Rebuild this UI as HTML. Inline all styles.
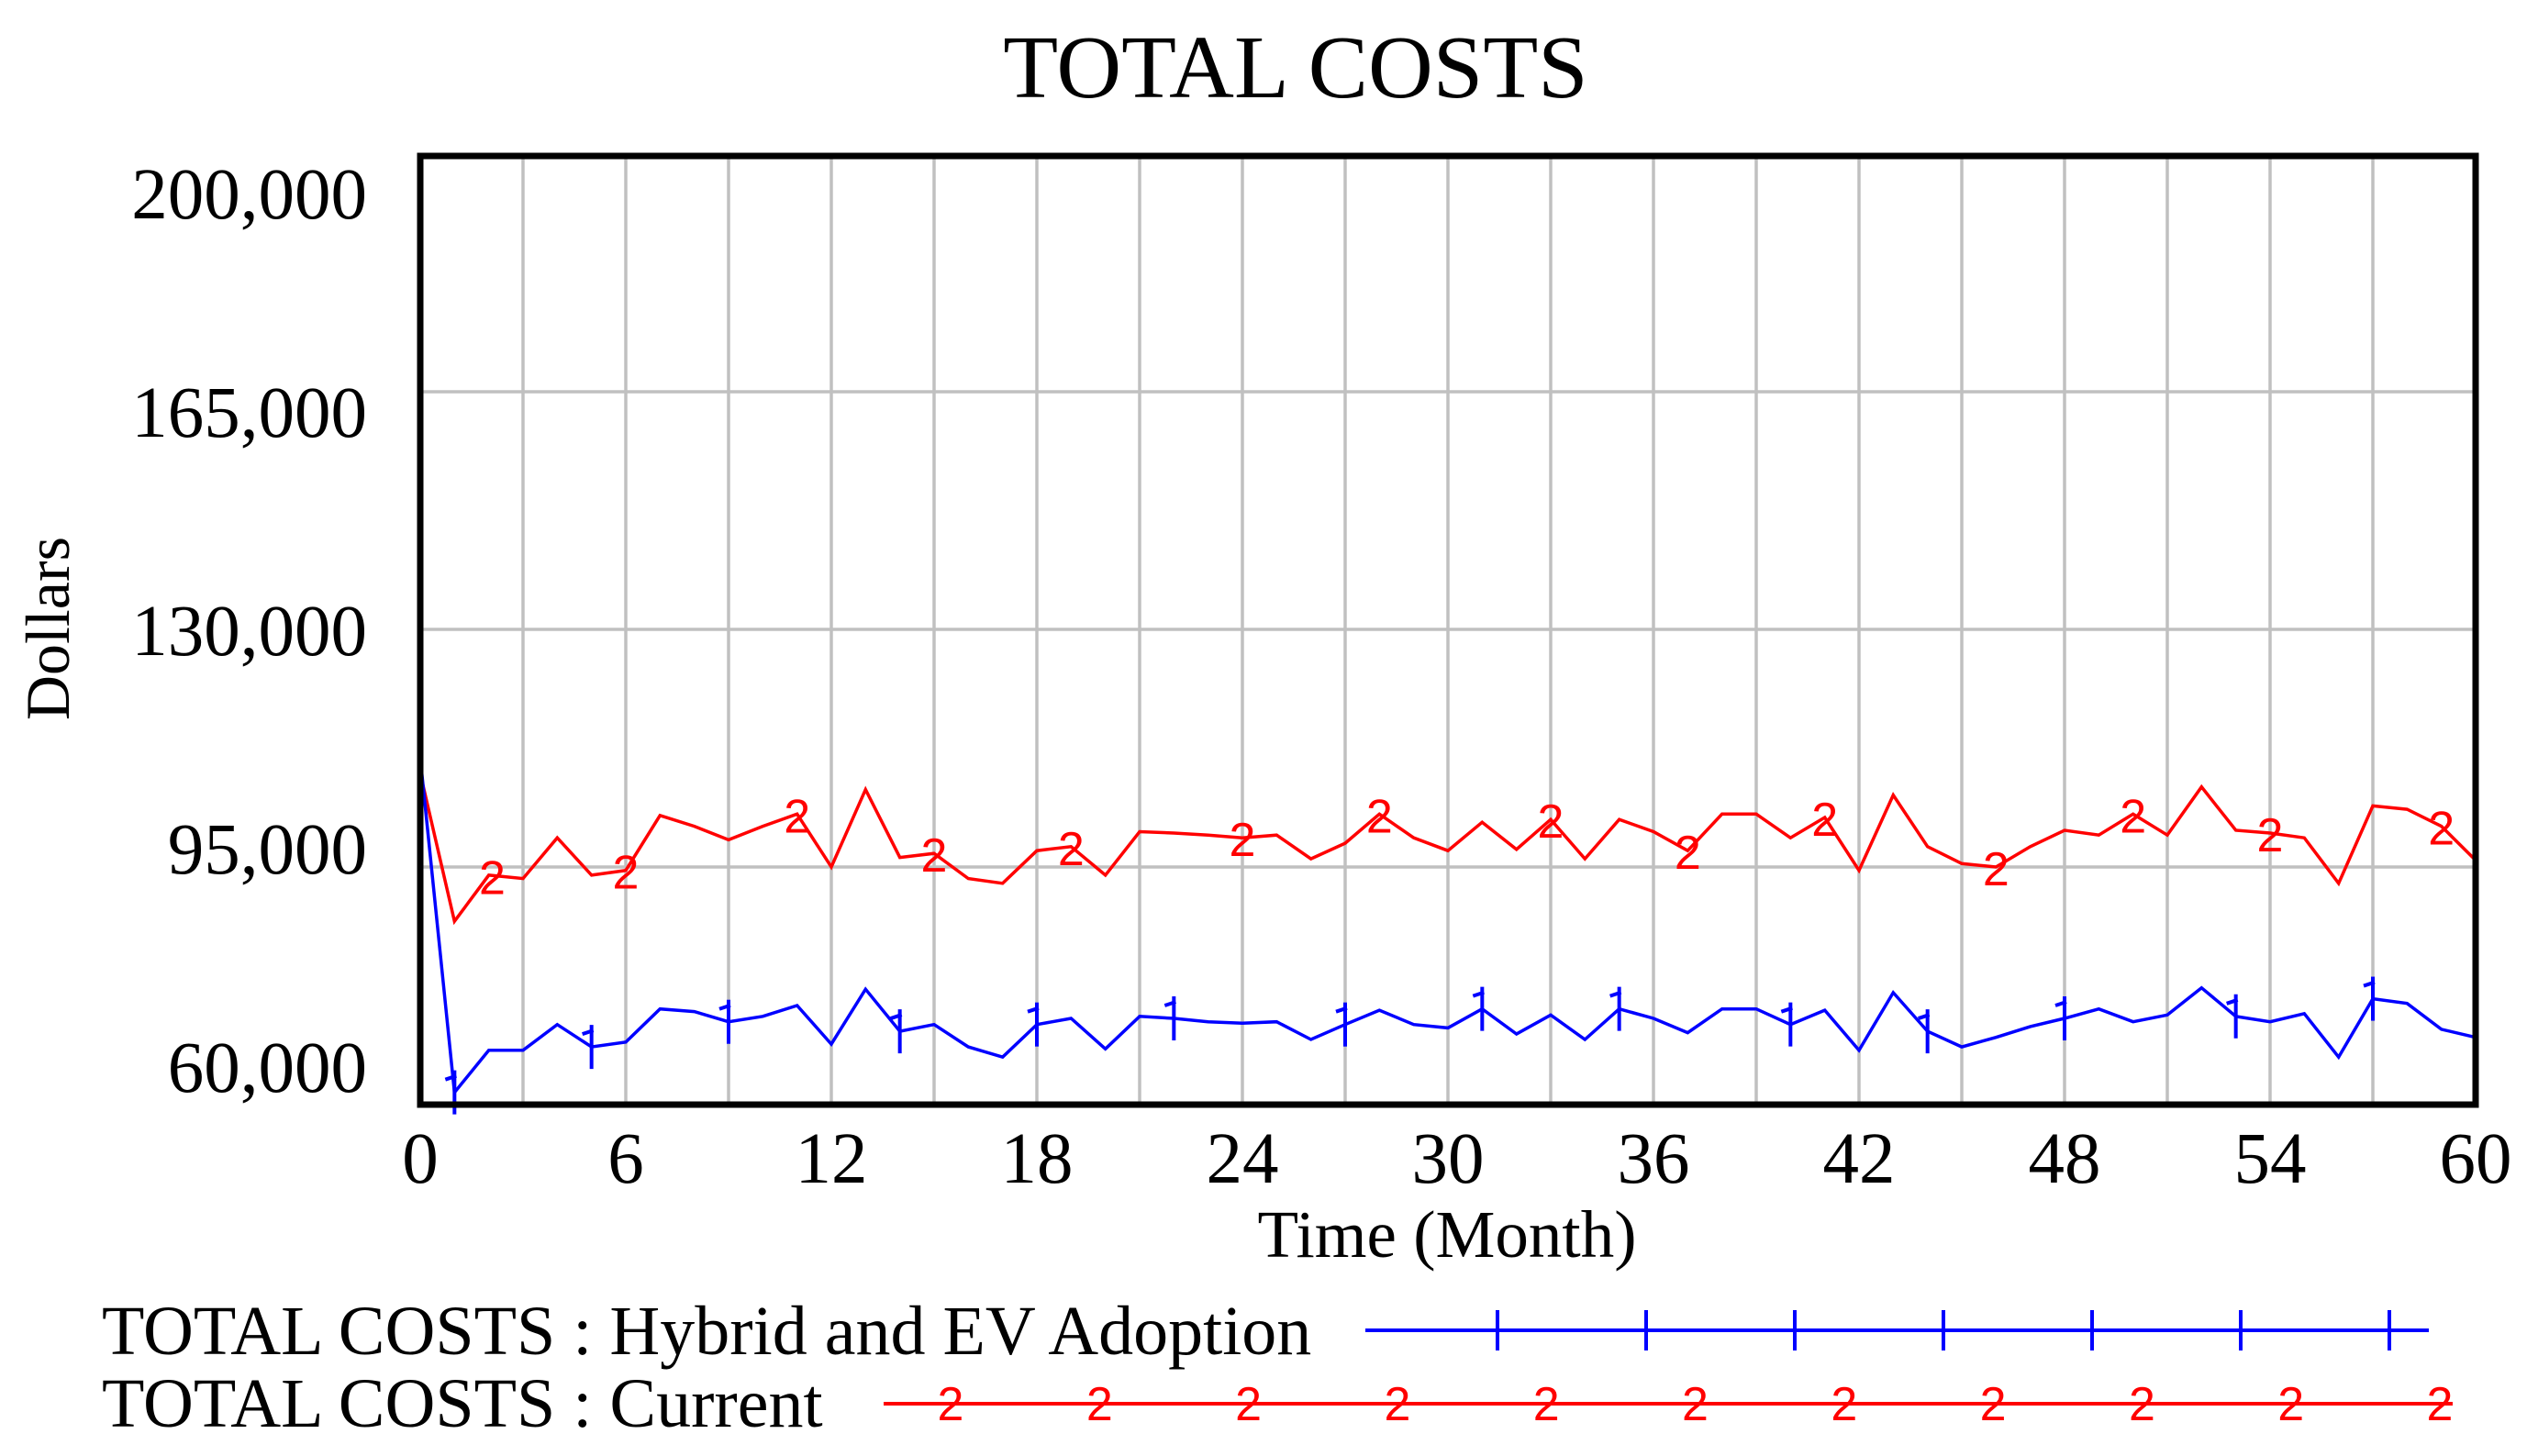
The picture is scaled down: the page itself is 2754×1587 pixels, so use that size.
<!DOCTYPE html>
<html><head><meta charset="utf-8"><style>
html,body{margin:0;padding:0;background:#fff;}
svg{display:block;font-family:"Liberation Serif",serif;}
</style></head><body>
<svg id="chart" width="2754" height="1587" viewBox="0 0 2754 1587" xmlns="http://www.w3.org/2000/svg">
<text x="1412" y="106" font-size="98" text-anchor="middle">TOTAL COSTS</text>
<g id="grid"></g>
<g id="yticks"></g>
<g id="xticks"></g>
<g id="series"></g>
<rect x="458" y="170" width="2240" height="1034" fill="none" stroke="#000" stroke-width="7"/>
<text transform="translate(75,685) rotate(-90)" font-size="68" text-anchor="middle">Dollars</text>
<text x="1577" y="1370" font-size="73" text-anchor="middle">Time (Month)</text>
<g id="legend">
<text x="111" y="1476" font-size="76">TOTAL COSTS : Hybrid and EV Adoption</text>
<text x="111" y="1555" font-size="76">TOTAL COSTS : Current</text>
</g>
</svg>
<script>
const months = [];
for (let i = 0; i <= 60; i++) months.push(i);
const hybridValues = [111100,61800,68000,68000,71800,68500,69200,74100,73700,72200,73000,74600,68900,77000,70800,71800,68500,67000,71800,72700,68200,73000,72700,72200,72000,72200,69600,71800,73900,71800,71300,74100,70400,73200,69600,74100,72700,70600,74100,74100,71800,73900,68000,76500,70800,68500,69900,71500,72700,74100,72200,73200,77200,73000,72200,73400,67000,75600,74900,71100,69900];
const currentValues = [108800,87000,93800,93300,99300,93800,94500,102600,101000,99000,101000,102800,95000,106400,96400,97000,93300,92600,97400,98000,93800,100200,100000,99700,99300,99700,96200,98500,102800,99300,97400,101600,97600,102000,96200,102000,100200,97400,102800,102800,99300,102300,94500,105600,98000,95500,95000,98000,100400,99700,102800,99700,106800,100400,100000,99300,92600,104000,103500,101000,96000];
const hybridMarkerTimes = [1,5,9,14,18,22,27,31,35,40,44,48,53,57];
const currentMarkerTimes = [2.1,6,11,15,19,24,28,33,37,41,46,50,54,59];
const yTickValues = [60000,95000,130000,165000,200000];
const yTickLabels = ["60,000","95,000","130,000","165,000","200,000"];
const xTickValues = [0,6,12,18,24,30,36,42,48,54,60];

const NS = "http://www.w3.org/2000/svg";
const X0 = 458, X1 = 2698, Y0 = 1204, Y1 = 168;
function xScale(t){ return X0 + (t/60)*(X1-X0); }
function yScale(v){ return Y0 - (v-60000)/(200000-60000)*(Y0-Y1); }
function mk(tag, attrs, parent){ const e=document.createElementNS(NS,tag); for(const k in attrs) e.setAttribute(k,attrs[k]); parent.appendChild(e); return e; }
function interp(arr,t){ const i=Math.floor(t), f=t-i; if(i>=60) return arr[60]; return arr[i]+(arr[i+1]-arr[i])*f; }

const grid = document.getElementById('grid');
for (let t = 3; t < 60; t += 3) {
  const l = mk('line',{x1:xScale(t),x2:xScale(t),y1:Y1,y2:Y0,stroke:'#c0c0c0','stroke-width':3.5},grid);
  
  
}
for (let i = 1; i < yTickValues.length-1; i++) {
  const l = mk('line',{x1:X0,x2:X1,y1:yScale(yTickValues[i]),y2:yScale(yTickValues[i]),stroke:'#c0c0c0','stroke-width':3.5},grid);
  
  
}
const yt = document.getElementById('yticks');
// labels are spread evenly from near the top to near the bottom of the frame
yTickValues.forEach((v,i)=>{
  const frac = i/(yTickValues.length-1);
  const cy = 1163 - frac*(1163-211);
  const tx = mk('text',{x:400,y:cy+27,'font-size':79,'text-anchor':'end'},yt);
  tx.textContent = yTickLabels[i];
  
  
});
const xt = document.getElementById('xticks');
xTickValues.forEach(v=>{
  const tx = mk('text',{x:xScale(v),y:1289,'font-size':79,'text-anchor':'middle'},xt);
  tx.textContent = String(v);
  
  
});
const sg = document.getElementById('series');
function drawSeries(vals,color,name){
  const pts = vals.map((v,i)=>xScale(months[i]).toFixed(1)+','+yScale(v).toFixed(1)).join(' ');
  const p = mk('polyline',{points:pts,fill:'none',stroke:color,'stroke-width':3.5},sg);
  
  
}
drawSeries(currentValues,'#ff0000','current-line');
drawSeries(hybridValues,'#0000ff','hybrid-line');
hybridMarkerTimes.forEach(t=>{
  const x=xScale(t), y=yScale(interp(hybridValues,t));
  const g = mk('g',{},sg);
  
  
  mk('line',{x1:x,x2:x,y1:y-24,y2:y+24,stroke:'#0000ff','stroke-width':4},g);
  mk('line',{x1:x-10,x2:x+2,y1:y-14,y2:y-18,stroke:'#0000ff','stroke-width':4},g);
});
currentMarkerTimes.forEach(t=>{
  const x=xScale(t), y=yScale(interp(currentValues,t));
  const tx = mk('text',{x:x,y:y+20,'font-size':52,'text-anchor':'middle',fill:'#ff0000','font-family':'Liberation Sans, sans-serif'},sg);
  tx.textContent='2';
  
  
});
const lg = document.getElementById('legend');
const l1 = mk('line',{x1:1488,x2:2647,y1:1450,y2:1450,stroke:'#0000ff','stroke-width':4},lg);


for (let i=0;i<7;i++){
  const x = 1632 + i*162;
  const m = mk('line',{x1:x,x2:x,y1:1428,y2:1472,stroke:'#0000ff','stroke-width':4},lg);
  
  
}
const l2 = mk('line',{x1:963,x2:2673,y1:1530,y2:1530,stroke:'#ff0000','stroke-width':4},lg);


for (let i=0;i<11;i++){
  const x = 1036 + i*162.3;
  const m = mk('text',{x:x,y:1548,'font-size':52,'text-anchor':'middle',fill:'#ff0000','font-family':'Liberation Sans, sans-serif'},lg);
  m.textContent='2';
  
  
}
</script>
</body></html>
